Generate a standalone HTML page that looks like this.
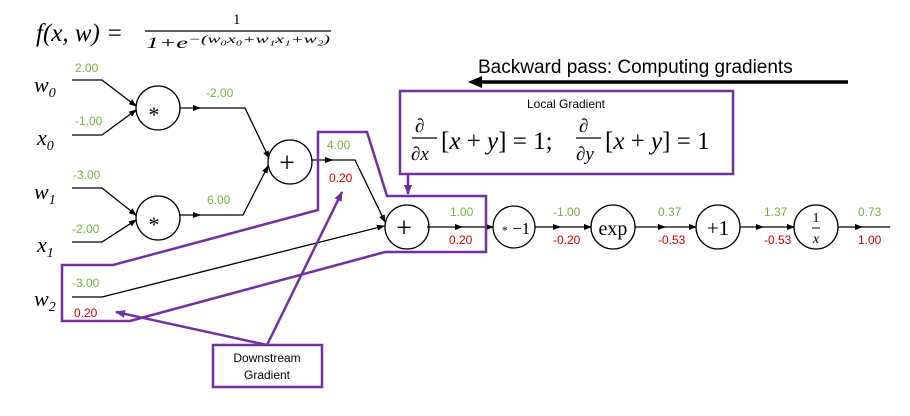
<!DOCTYPE html>
<html><head><meta charset="utf-8"><style>
html,body{margin:0;padding:0;background:#fff;}
svg{display:block;font-family:"Liberation Sans",sans-serif;}
.g{fill:#77b244;font-size:12px;}
.r{fill:#d40000;font-size:12px;}
.m{font-family:"Liberation Serif","DejaVu Serif",serif;font-style:italic;}
</style></head><body>
<svg width="910" height="416" viewBox="0 0 910 416" xmlns="http://www.w3.org/2000/svg">
<defs>
<marker id="a" markerWidth="8" markerHeight="8" refX="7" refY="4" orient="auto" markerUnits="userSpaceOnUse"><path d="M0,1 L8,4 L0,7z" fill="#000"/></marker>
<marker id="p" markerWidth="10" markerHeight="10" refX="9" refY="5" orient="auto" markerUnits="userSpaceOnUse"><path d="M0,1 L10,5 L0,9z" fill="#7030a0"/></marker>
</defs>
<!-- formula -->
<text x="36" y="41" class="m" font-size="25">f(x, w) =</text>
<text x="233" y="24" style="font-family:'Liberation Serif',serif" font-size="15">1</text>
<line x1="145" y1="31" x2="331" y2="31" stroke="#000" stroke-width="1.3"/>
<text x="146" y="48" class="m" font-size="16" textLength="184" lengthAdjust="spacingAndGlyphs">1+e<tspan font-size="12" dy="-5">−(w₀x₀+w₁x₁+w₂)</tspan></text>
<!-- backward pass -->
<text x="478" y="73" font-size="19">Backward pass: Computing gradients</text>
<line x1="478" y1="82" x2="848" y2="82" stroke="#000" stroke-width="3.5"/>
<path d="M468,82 L482,76 L482,88z" fill="#000"/>
<!-- input labels -->
<g class="m" font-size="22">
<text x="34" y="92">w<tspan font-size="14" dy="5">0</tspan></text>
<text x="37" y="145">x<tspan font-size="14" dy="5">0</tspan></text>
<text x="34" y="199">w<tspan font-size="14" dy="5">1</tspan></text>
<text x="37" y="252">x<tspan font-size="14" dy="5">1</tspan></text>
<text x="34" y="306">w<tspan font-size="14" dy="5">2</tspan></text>
</g>
<g fill="none" stroke="#000" stroke-width="1.3">
<polyline points="72,80 102,80 136,106" marker-end="url(#a)"/>
<polyline points="72,135 102,135 136,110" marker-end="url(#a)"/>
<polyline points="72,188 102,188 136,215" marker-end="url(#a)"/>
<polyline points="72,242 102,242 136,220" marker-end="url(#a)"/>
<line x1="180" y1="108" x2="200" y2="108" marker-end="url(#a)"/>
<polyline points="199,108 245,108 269,158" marker-end="url(#a)"/>
<line x1="180" y1="215" x2="200" y2="215" marker-end="url(#a)"/>
<polyline points="199,215 243,215 268,166" marker-end="url(#a)"/>
<line x1="312" y1="160" x2="332" y2="160" marker-end="url(#a)"/>
<polyline points="331,160 355,160 385,222" marker-end="url(#a)"/>
<polyline points="72,297 102,297 384,226" marker-end="url(#a)"/>
<line x1="427" y1="227" x2="462" y2="227" marker-end="url(#a)"/>
<line x1="461" y1="227" x2="493" y2="227" marker-end="url(#a)"/>
<line x1="535" y1="227" x2="560" y2="227" marker-end="url(#a)"/>
<line x1="559" y1="227" x2="591" y2="227" marker-end="url(#a)"/>
<line x1="635" y1="227" x2="665" y2="227" marker-end="url(#a)"/>
<line x1="664" y1="227" x2="696" y2="227" marker-end="url(#a)"/>
<line x1="740" y1="227" x2="763" y2="227" marker-end="url(#a)"/>
<line x1="762" y1="227" x2="794" y2="227" marker-end="url(#a)"/>
<line x1="838" y1="227" x2="862" y2="227" marker-end="url(#a)"/>
<line x1="861" y1="227" x2="890" y2="227"/>
<circle cx="158" cy="108" r="22"/>
<circle cx="158" cy="218" r="22"/>
<circle cx="290" cy="162" r="22"/>
<circle cx="407" cy="227" r="22"/>
<circle cx="514" cy="227" r="21"/>
<circle cx="613" cy="227" r="22"/>
<circle cx="718" cy="227" r="22"/>
<circle cx="816" cy="227" r="22"/>
</g>
<g style="font-family:'Liberation Serif',serif" text-anchor="middle">
<text x="154" y="122" font-size="22">*</text>
<text x="154" y="232" font-size="22">*</text>
<text x="287" y="172" font-size="28">+</text>
<text x="404" y="237" font-size="28">+</text>
<text x="516" y="234" font-size="17"><tspan font-size="12">*</tspan> −1</text>
<text x="613" y="235" font-size="20">exp</text>
<text x="718" y="235" font-size="21">+1</text>
<text x="816" y="222" font-size="14">1</text>
<line x1="812" y1="228" x2="820" y2="228" stroke="#000"/>
<text x="816" y="243" font-size="14" font-style="italic">x</text>
</g>
<!-- values -->
<text class="g" x="75" y="72">2.00</text>
<text class="g" x="75" y="125">-1.00</text>
<text class="g" x="73" y="179">-3.00</text>
<text class="g" x="72" y="233">-2.00</text>
<text class="g" x="72" y="287">-3.00</text>
<text class="r" x="74" y="317">0.20</text>
<text class="g" x="206" y="97">-2.00</text>
<text class="g" x="207" y="204">6.00</text>
<text class="g" x="327" y="149">4.00</text>
<text class="r" x="329" y="182">0.20</text>
<text class="g" x="450" y="216">1.00</text>
<text class="r" x="449" y="244">0.20</text>
<text class="g" x="553" y="216">-1.00</text>
<text class="r" x="553" y="244">-0.20</text>
<text class="g" x="658" y="216">0.37</text>
<text class="r" x="658" y="244">-0.53</text>
<text class="g" x="764" y="216">1.37</text>
<text class="r" x="764" y="244">-0.53</text>
<text class="g" x="858" y="216">0.73</text>
<text class="r" x="858" y="244">1.00</text>
<!-- purple -->
<g fill="none" stroke="#7030a0" stroke-width="2.5">
<rect x="400" y="91" width="333" height="83"/>
<polygon points="62,265 113,265 318,210 318,132 367,132 387,196 486,196 486,252 385,252 130,321 62,321"/>
<rect x="213" y="345" width="109" height="42"/>
<line x1="408" y1="174" x2="408" y2="194" marker-end="url(#p)"/>
<line x1="267" y1="345" x2="342" y2="192" marker-end="url(#p)"/>
<line x1="267" y1="345" x2="116" y2="312" marker-end="url(#p)"/>
</g>
<text x="566" y="108" font-size="12" text-anchor="middle">Local Gradient</text>
<g style="font-family:'Liberation Serif',serif" font-size="25">
<text x="415" y="132" font-size="19">∂</text>
<line x1="412" y1="138" x2="437" y2="138" stroke="#000" stroke-width="1.3"/>
<text x="411" y="160" font-size="19" font-style="italic">∂x</text>
<text x="441" y="149">[<tspan font-style="italic">x</tspan> + <tspan font-style="italic">y</tspan>] = 1;</text>
<text x="579" y="132" font-size="19">∂</text>
<line x1="576" y1="138" x2="601" y2="138" stroke="#000" stroke-width="1.3"/>
<text x="576" y="160" font-size="19" font-style="italic">∂y</text>
<text x="605" y="149">[<tspan font-style="italic">x</tspan> + <tspan font-style="italic">y</tspan>] = 1</text>
</g>
<text x="267" y="362" font-size="12" text-anchor="middle">Downstream</text>
<text x="267" y="379" font-size="12" text-anchor="middle">Gradient</text>
</svg>
</body></html>
